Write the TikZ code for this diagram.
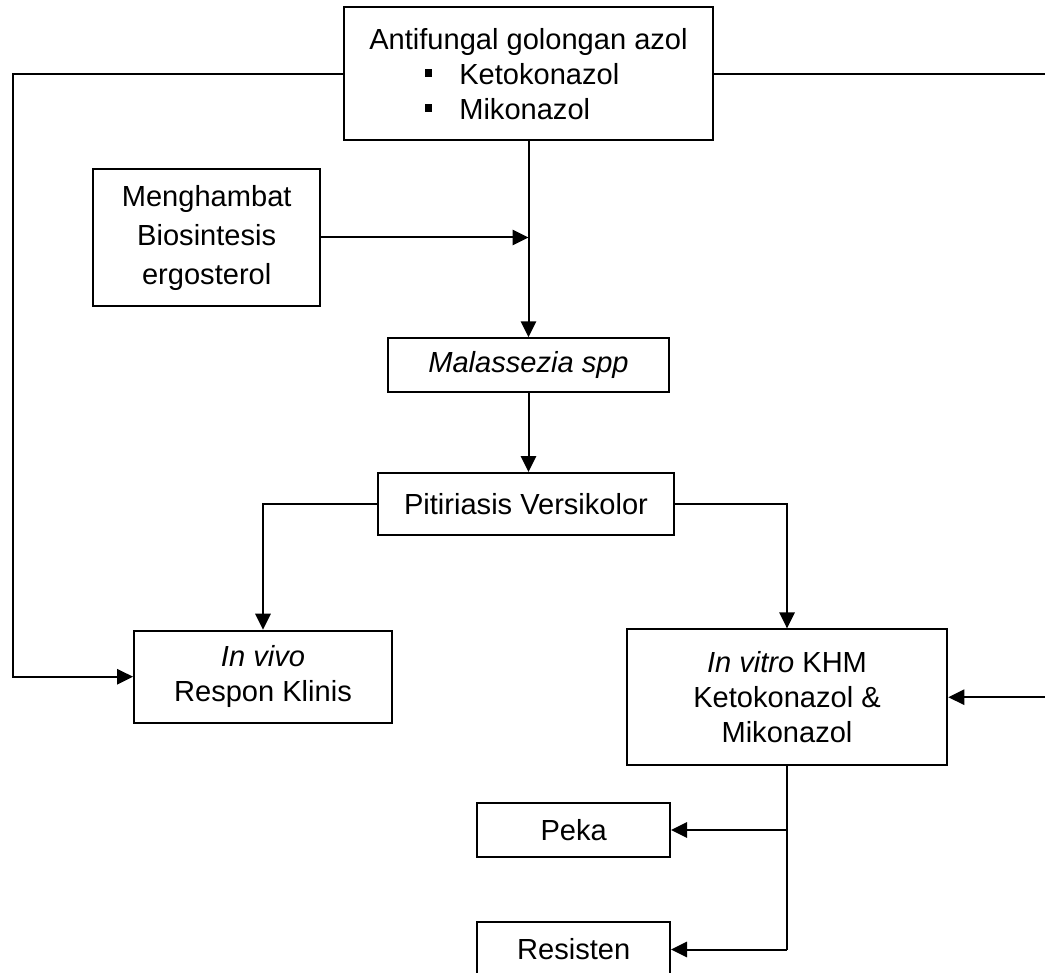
\documentclass[tikz,border=0pt]{standalone}
\usepackage{fontspec}
\setmainfont{Liberation Sans}
\usetikzlibrary{arrows.meta}
\newcommand\fszA{\fontsize{21.8pt}{26.25pt}\selectfont}
\newcommand\fszB{\fontsize{21.8pt}{29.25pt}\selectfont}
\newcommand\sqbul{\raisebox{5.5pt}{\rule{5.8pt}{5.8pt}}}
\begin{document}
\begin{tikzpicture}[x=0.75pt,y=-0.75pt,
 box/.style={draw, line width=1.5pt, inner sep=0pt, align=center, font=\fszA},
 sz/.style 2 args={minimum width=#1*0.75pt, minimum height=#2*0.75pt},
 conn/.style={line width=1.5pt},
 arr/.style={conn, -{Triangle[length=12pt,width=11.5pt]}}]
\useasboundingbox (0,0) rectangle (1045,973);
\clip (0,0) rectangle (1045,973);
\node[box, sz={369}{133}] (top) at (528.5,73.7) {Antifungal golongan azol\\
 \makebox[156pt][l]{\sqbul\hspace{20.3pt}Ketokonazol}\\
 \makebox[156pt][l]{\sqbul\hspace{20.3pt}Mikonazol}};
\node[box, sz={226.7}{136.4}, font=\fszB] (meng) at (206.7,237.5) {Menghambat\\Biosintesis\\ergosterol};
\node[box, sz={281}{53.4}] (mal) at (528.5,365) {\itshape Malassezia spp};
\node[box, sz={296}{62}] (pit) at (526,504) {Pitiriasis Versikolor};
\node[box, sz={258}{92}] (vivo) at (263,676.7) {\textit{In vivo}\\Respon Klinis};
\node[box, sz={320.6}{135.7}] (vitro) at (787,697.2) {\textit{In vitro} KHM\\Ketokonazol \&\\Mikonazol};
\node[box, sz={192.7}{54.6}] (peka) at (573.7,830) {Peka};
\node[box, sz={192.7}{55}] (res) at (573.7,949.5) {Resisten};
\draw[arr] (top.west) -- ++(-330,0) |- (vivo.west);
\draw[arr] (top.east) -- ++(340,0) |- (vitro.east);
\draw[arr] (top.south) -- (top.south |- mal.north);
\coordinate (J) at (top.south |- meng.east);
\draw[arr] (meng.east) -- (J);
\draw[arr] (mal.south) -- (mal.south |- pit.north);
\draw[arr] (pit.west) -| (vivo.north);
\draw[arr] (pit.east) -| (vitro.north);
\draw[conn] (vitro.south) -- (vitro.south |- res.east);
\draw[arr] (vitro.south |- peka.east) -- (peka.east);
\draw[arr] (vitro.south |- res.east) -- (res.east);
\end{tikzpicture}
\end{document}
